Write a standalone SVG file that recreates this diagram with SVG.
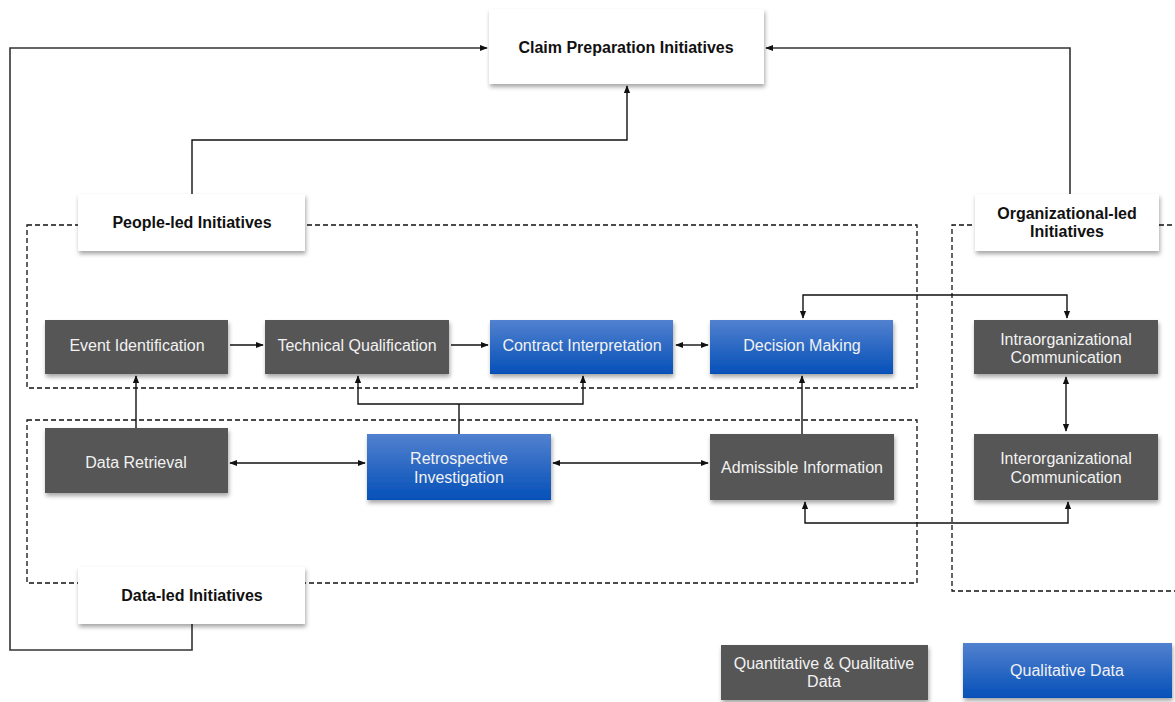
<svg xmlns="http://www.w3.org/2000/svg" width="1175" height="702" viewBox="0 0 1175 702">
  <style>
    .title { fill: #ffffff; }
    .dark { fill: #565656; }
    .blue { fill: url(#blueGrad); }
    .lbl { font-family: "Liberation Sans", Arial, sans-serif; font-size: 16px; text-anchor: middle; dominant-baseline: central; }
    .w { fill: #f2f2f2; }
    .b { fill: #111111; font-weight: bold; }
    .group { fill: none; stroke: #111; stroke-width: 1.3; stroke-dasharray: 5 3; }
    .conn { fill: none; stroke: #111; stroke-width: 1.4; }
    .outer { fill: none; stroke: #333; stroke-width: 1.6; }
  </style>
  <defs>
    <linearGradient id="blueGrad" x1="0" y1="0" x2="0" y2="1">
      <stop offset="0" stop-color="#5281cf"/>
      <stop offset="1" stop-color="#0550b8"/>
    </linearGradient>
    <filter id="shadow" x="-10%" y="-10%" width="125%" height="140%">
      <feDropShadow dx="1" dy="3" stdDeviation="2" flood-color="#000" flood-opacity="0.35"/>
    </filter>
    <marker id="arr" viewBox="0 0 10 10" refX="9" refY="5" markerWidth="8" markerHeight="8" orient="auto-start-reverse" markerUnits="userSpaceOnUse">
      <path d="M0,1 L10,5 L0,9 Z" fill="#111"/>
    </marker>
  </defs>

  <rect width="1175" height="702" fill="#ffffff"/>

  <!-- dashed grouping frames -->
  <g id="frames">
    <rect class="group" x="27" y="225" width="890" height="163"/>
    <rect class="group" x="27" y="420" width="890" height="163"/>
    <path class="group" d="M1180,225 H952 V591 H1180"/>
  </g>

  <!-- connectors -->
  <g id="connectors">
    <path class="outer" d="M192,624 V650 H10 V48 H487" marker-end="url(#arr)"/>
    <path class="outer" d="M1070,195 V48 H766" marker-end="url(#arr)"/>
    <path class="conn" d="M192,195 V140 H627 V86" marker-end="url(#arr)"/>

    <path class="conn" d="M230,345 H263" marker-end="url(#arr)"/>
    <path class="conn" d="M451,345 H488" marker-end="url(#arr)"/>
    <path class="conn" d="M676,345 H708" marker-start="url(#arr)" marker-end="url(#arr)"/>

    <path class="conn" d="M136,428 V376" marker-end="url(#arr)"/>
    <path class="conn" d="M459,434 V404"/>
    <path class="conn" d="M358,376 V404 H583 V376" marker-start="url(#arr)" marker-end="url(#arr)"/>

    <path class="conn" d="M230,463 H365" marker-start="url(#arr)" marker-end="url(#arr)"/>
    <path class="conn" d="M553,463 H708" marker-start="url(#arr)" marker-end="url(#arr)"/>
    <path class="conn" d="M802,434 V376" marker-end="url(#arr)"/>

    <path class="conn" d="M803,318 V295 H1067 V318" marker-start="url(#arr)" marker-end="url(#arr)"/>
    <path class="conn" d="M805,502 V523 H1068 V502" marker-start="url(#arr)" marker-end="url(#arr)"/>
    <path class="conn" d="M1066,377 V431" marker-start="url(#arr)" marker-end="url(#arr)"/>
  </g>

  <!-- title nodes -->
  <g id="claim-preparation">
    <rect class="title" x="489" y="9" width="275" height="75" filter="url(#shadow)"/>
    <text class="lbl b" x="626" y="47">Claim Preparation Initiatives</text>
  </g>
  <g id="people-led">
    <rect class="title" x="78" y="194" width="227" height="57" filter="url(#shadow)"/>
    <text class="lbl b" x="192" y="222">People-led Initiatives</text>
  </g>
  <g id="data-led">
    <rect class="title" x="78" y="567" width="227" height="57" filter="url(#shadow)"/>
    <text class="lbl b" x="192" y="595">Data-led Initiatives</text>
  </g>
  <g id="organizational-led">
    <rect class="title" x="975" y="194" width="184" height="57" filter="url(#shadow)"/>
    <text class="lbl b" x="1067" y="213">Organizational-led</text>
    <text class="lbl b" x="1067" y="231">Initiatives</text>
  </g>

  <!-- process nodes -->
  <g id="event-identification">
    <rect class="dark" x="45" y="320" width="183" height="54" filter="url(#shadow)"/>
    <text class="lbl w" x="137" y="345">Event Identification</text>
  </g>
  <g id="technical-qualification">
    <rect class="dark" x="265" y="320" width="184" height="54" filter="url(#shadow)"/>
    <text class="lbl w" x="357" y="345">Technical Qualification</text>
  </g>
  <g id="contract-interpretation">
    <rect class="blue" x="490" y="320" width="183" height="54" filter="url(#shadow)"/>
    <text class="lbl w" x="582" y="345">Contract Interpretation</text>
  </g>
  <g id="decision-making">
    <rect class="blue" x="710" y="320" width="183" height="54" filter="url(#shadow)"/>
    <text class="lbl w" x="802" y="345">Decision Making</text>
  </g>
  <g id="data-retrieval">
    <rect class="dark" x="45" y="428" width="183" height="65" filter="url(#shadow)"/>
    <text class="lbl w" x="136" y="462">Data Retrieval</text>
  </g>
  <g id="retrospective-investigation">
    <rect class="blue" x="367" y="434" width="184" height="66" filter="url(#shadow)"/>
    <text class="lbl w" x="459" y="458">Retrospective</text>
    <text class="lbl w" x="459" y="477">Investigation</text>
  </g>
  <g id="admissible-information">
    <rect class="dark" x="710" y="434" width="184" height="66" filter="url(#shadow)"/>
    <text class="lbl w" x="802" y="467">Admissible Information</text>
  </g>
  <g id="intraorganizational-communication">
    <rect class="dark" x="974" y="320" width="184" height="54" filter="url(#shadow)"/>
    <text class="lbl w" x="1066" y="339">Intraorganizational</text>
    <text class="lbl w" x="1066" y="357">Communication</text>
  </g>
  <g id="interorganizational-communication">
    <rect class="dark" x="974" y="434" width="184" height="66" filter="url(#shadow)"/>
    <text class="lbl w" x="1066" y="458">Interorganizational</text>
    <text class="lbl w" x="1066" y="477">Communication</text>
  </g>

  <!-- legend -->
  <g id="legend-quant-qual">
    <rect class="dark" x="721" y="645" width="207" height="55" filter="url(#shadow)"/>
    <text class="lbl w" x="824" y="663">Quantitative &amp; Qualitative</text>
    <text class="lbl w" x="824" y="681">Data</text>
  </g>
  <g id="legend-qual">
    <rect class="blue" x="963" y="643" width="209" height="55" filter="url(#shadow)"/>
    <text class="lbl w" x="1067" y="670">Qualitative Data</text>
  </g>
</svg>
